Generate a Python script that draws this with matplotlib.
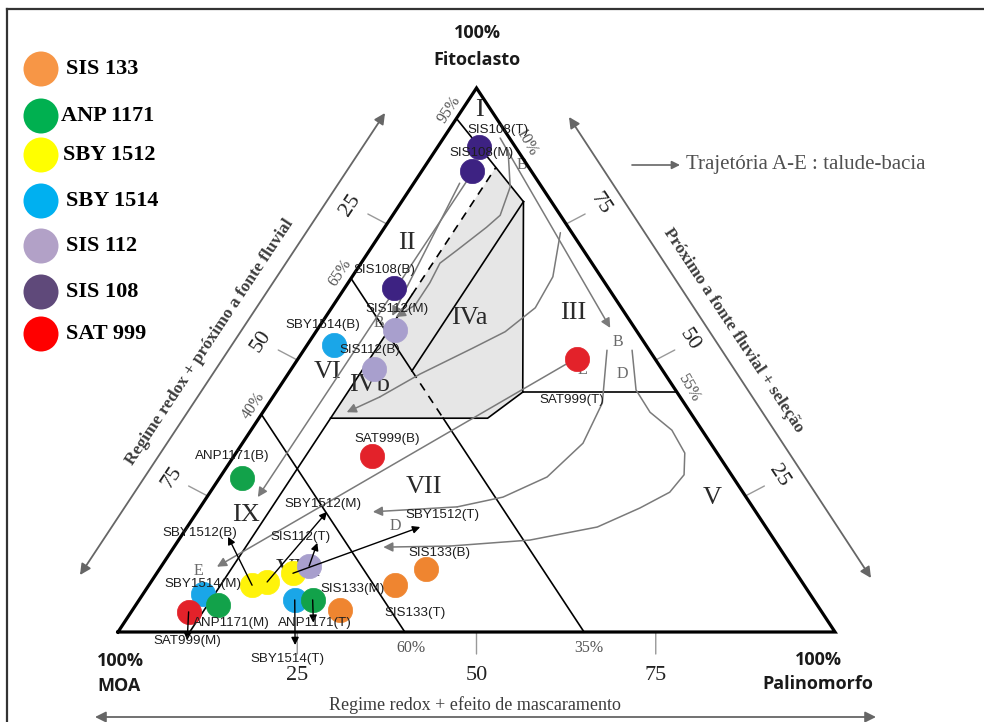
import numpy as np
import matplotlib
matplotlib.use("Agg")
import matplotlib.pyplot as plt
from matplotlib.patches import Polygon, Ellipse

# ---------------- data ----------------
series_names = ["SIS 133", "ANP 1171", "SBY 1512", "SBY 1514", "SIS 112", "SIS 108", "SAT 999"]

# samples of each well: tag, MOA %, Fitoclasto %, Palinomorfo %
sis133_tags = ["SIS133(B)", "SIS133(M)", "SIS133(T)"]
sis133_moa = [51.3, 57.1, 67.0]
sis133_fito = [11.6, 8.6, 4.0]
sis133_pal = [37.1, 34.3, 29.0]

anp1171_tags = ["ANP1171(B)", "ANP1171(M)", "ANP1171(T)"]
anp1171_moa = [68.6, 83.6, 69.9]
anp1171_fito = [28.3, 5.0, 5.9]
anp1171_pal = [3.1, 11.4, 24.2]

sby1512_tags = ["SBY1512(B)", "SBY1512(M)", "SBY1512(T)"]
sby1512_moa = [77.0, 74.6, 70.2]
sby1512_fito = [8.6, 9.2, 10.8]
sby1512_pal = [14.4, 16.2, 19.0]

sby1514_tags = ["SBY1514(B)", "SBY1514(M)", "SBY1514(T)"]
sby1514_moa = [43.5, 84.6, 72.4]
sby1514_fito = [52.8, 7.0, 5.9]
sby1514_pal = [3.7, 8.4, 21.7]

sis112_tags = ["SIS112(B)", "SIS112(M)", "SIS112(T)"]
sis112_moa = [40.1, 33.6, 67.3]
sis112_fito = [48.4, 55.5, 12.1]
sis112_pal = [11.5, 10.9, 20.6]

sis108_tags = ["SIS108(B)", "SIS108(M)", "SIS108(T)"]
sis108_moa = [29.9, 8.3, 5.1]
sis108_fito = [63.2, 84.7, 89.1]
sis108_pal = [6.9, 7.0, 5.8]

sat999_tags = ["SAT999(B)", "SAT999(M)", "SAT999(T)"]
sat999_moa = [48.4, 88.3, 10.9]
sat999_fito = [32.4, 3.7, 50.2]
sat999_pal = [19.2, 8.0, 38.9]

# field boundaries (Fitoclasto %, Palinomorfo %); MOA = 100 - F - P
moa5_fito, moa5_pal = [94.4, 79.1], [0.0, 17.0]
ratio_fito, ratio_pal = [79.1, 44.1], [17.0, 34.4]
f44_fito, f44_pal = [44.1, 44.1], [34.4, 55.9]
step_fito, step_pal = [44.1, 39.3, 39.3], [34.4, 31.9, 10.0]
p10_fito, p10_pal = [0.0, 62.0], [10.0, 10.0]
p10d_fito, p10d_pal = [62.0, 85.4], [10.0, 10.0]
p17_fito, p17_pal = [79.1, 48.0], [17.0, 17.0]
moa35a_fito, moa35a_pal = [65.0, 48.0], [0.0, 17.0]
moa35b_fito, moa35b_pal = [48.0, 39.3], [17.0, 25.7]
moa35c_fito, moa35c_pal = [39.3, 0.0], [25.7, 65.0]
moa60_fito, moa60_pal = [40.0, 0.0], [0.0, 40.0]
shade_fito = [85.4, 79.1, 44.1, 39.3, 39.3]
shade_pal = [10.0, 17.0, 34.4, 31.9, 10.0]

# trajectories A-E (Fitoclasto %, Palinomorfo %)
traj1_fito, traj1_pal = [82.7, 24.8], [7.2, 7.1]
traj2_fito, traj2_pal = [82.5, 58.1], [6.4, 9.2]
traj3_fito = [88.6, 81.8, 76.6, 74.4, 70.2, 67.8, 64.2, 60.1, 57.9]
traj3_pal = [10.1, 13.8, 15.0, 14.2, 12.2, 11.0, 11.4, 11.4, 9.8]
traj4_fito = [73.4, 65.3, 59.6, 55.2, 52.2, 47.4, 43.2, 40.4]
traj4_pal = [25.0, 28.0, 28.4, 26.4, 23.4, 18.4, 14.9, 11.7]
traj5_fito, traj5_pal = [90.8, 55.9], [7.9, 40.7]
traj6_fito = [51.8, 42.1, 34.7, 28.5, 24.8, 23.0, 22.1]
traj6_pal = [42.3, 46.5, 47.5, 45.6, 41.3, 35.8, 24.5]
traj7_fito = [51.8, 44.5, 40.4, 37.1, 32.9, 28.9, 25.7, 22.8, 19.3, 16.9, 15.8, 15.6]
traj7_pal = [45.8, 50.0, 54.0, 58.7, 62.6, 64.5, 64.1, 61.4, 57.2, 49.0, 38.4, 29.2]
traj8_fito, traj8_pal = [50.0, 12.0], [38.5, 7.8]

# sample shift arrows: start sample, end (Fitoclasto %, Palinomorfo %)
shift_from = ["SBY1512(M)", "SBY1512(B)", "SBY1512(T)", "SIS112(T)", "SBY1514(T)", "ANP1171(T)", "SAT999(M)"]
shift_to_fito = [22.1, 17.5, 19.3, 16.4, -2.4, 1.7, -1.5]
shift_to_pal = [18.1, 6.6, 32.5, 19.6, 25.9, 26.4, 10.4]

edge_ticks = [25, 50, 75]

# ---------------- styling ----------------
legend_colors = ["#f79646", "#00b050", "#ffff00", "#00b0f0", "#b2a1c7", "#5f497a", "#ff0000"]
dot_colors = ["#ef8530", "#12a24a", "#fff30a", "#1aa6e8", "#a89fcd", "#3d2282", "#e3222a"]
SERIF = ["Liberation Serif", "DejaVu Serif"]
SANS = ["Liberation Sans", "DejaVu Sans"]
TITLE = ["Open Sans", "DejaVu Sans"]
GRAY = "#7a7a7a"

W, H = 984, 722
fig = plt.figure(figsize=(W / 100, H / 100), dpi=100)
fig.patch.set_facecolor("white")

X0, X1, YB, YT = 118, 835, 632, 88
ax = fig.add_axes([X0 / W, 1 - YB / H, (X1 - X0) / W, (YB - YT) / H])
ax.set_xlim(0, 100)
ax.set_ylim(0, 100)
ax.axis("off")


def tern(fito, pal, moa=None):
    fito = np.asarray(fito, float)
    pal = np.asarray(pal, float)
    if moa is not None:
        tot = np.asarray(moa, float) + fito + pal
        fito = fito * 100 / tot
        pal = pal * 100 / tot
    return pal + fito / 2, fito


def fp(x, y):
    return (x, H - y)


PX = 0.72  # points per pixel

# frame
fig.add_artist(plt.Line2D([7 / W, 7 / W], [0, 1 - 9 / H], color="#333333", lw=1.6))
fig.add_artist(plt.Line2D([7 / W, 1], [1 - 9 / H, 1 - 9 / H], color="#333333", lw=1.6))

# shaded field IV
sx, sy = tern(shade_fito, shade_pal)
ax.add_patch(Polygon(np.column_stack([sx, sy]), closed=True, facecolor="#e6e6e6",
                     edgecolor="none", zorder=1))

# triangle outline
tx, ty = tern([0, 100, 0, 0], [0, 0, 100, 0])
ax.plot(tx, ty, color="black", lw=2.3, solid_joinstyle="miter", clip_on=False, zorder=4)

# field boundary lines
for fl, pl, ls in [(moa5_fito, moa5_pal, "-"), (ratio_fito, ratio_pal, "-"),
                   (f44_fito, f44_pal, "-"), (step_fito, step_pal, "-"),
                   (p10_fito, p10_pal, "-"), (p10d_fito, p10d_pal, (0, (5, 4))),
                   (p17_fito, p17_pal, "-"), (moa35a_fito, moa35a_pal, "-"),
                   (moa35b_fito, moa35b_pal, (0, (5, 4))), (moa35c_fito, moa35c_pal, "-"),
                   (moa60_fito, moa60_pal, "-")]:
    x, y = tern(fl, pl)
    ax.plot(x, y, color="black", lw=1.2, ls=ls, clip_on=False, zorder=2)


def arrow_path(fl, pl, color, lw=1.1, ms=14, z=3):
    x, y = tern(fl, pl)
    if len(x) > 2:
        ax.plot(x[:-1], y[:-1], color=color, lw=lw, clip_on=False, zorder=z,
                solid_capstyle="round", solid_joinstyle="round")
        start = (x[-2], y[-2])
    else:
        start = (x[0], y[0])
    ax.annotate("", xy=(x[-1], y[-1]), xytext=start,
                arrowprops=dict(arrowstyle="-|>", color=color, lw=lw, mutation_scale=ms,
                                shrinkA=0, shrinkB=0), zorder=z, annotation_clip=False)


for fl, pl in [(traj1_fito, traj1_pal), (traj2_fito, traj2_pal), (traj3_fito, traj3_pal),
               (traj4_fito, traj4_pal), (traj5_fito, traj5_pal), (traj6_fito, traj6_pal),
               (traj7_fito, traj7_pal), (traj8_fito, traj8_pal)]:
    arrow_path(fl, pl, GRAY)

# field labels
fields = ["I", "II", "III", "IVa", "IVb", "V", "VI", "VII", "VIII", "IX"]
field_px = [(479, 110), (407, 243), (573, 313), (469, 318), (370, 385), (712, 498),
            (328, 372), (424, 487), (298, 570), (246, 515)]
for name, (px_, py_) in zip(fields, field_px):
    ax.annotate(name, xy=fp(px_, py_), xycoords="figure pixels", ha="center", va="center",
                fontsize=19, family=SERIF, color="#2a2a2a", zorder=2)

# trajectory letters
for s, (px_, py_) in zip(["B", "B", "B", "D", "E", "D", "E"],
                         [(522, 165), (379, 323), (618, 342), (622, 374), (582, 370),
                          (395, 526), (198, 571)]):
    ax.annotate(s, xy=fp(px_, py_), xycoords="figure pixels", ha="center", va="center",
                fontsize=11.5, family=SERIF, color="#6a6a6a", zorder=3)

# percent labels
pct = [("95%", 449, 110, 56.5), ("10%", 526, 143, -60), ("65%", 340, 273, 56.5),
       ("40%", 253, 406, 56.5), ("60%", 411, 648, 0), ("35%", 589, 648, 0),
       ("55%", 689, 388, -60)]
for s, px_, py_, rot in pct:
    ax.annotate(s, xy=fp(px_, py_), xycoords="figure pixels", ha="center", va="center",
                fontsize=11.5, family=SERIF, color="#555555", rotation=rot, zorder=3)

# data points
dot_order = [3, 1, 2, 4, 0, 5, 6]
all_series = [
    (sis133_tags, sis133_moa, sis133_fito, sis133_pal),
    (anp1171_tags, anp1171_moa, anp1171_fito, anp1171_pal),
    (sby1512_tags, sby1512_moa, sby1512_fito, sby1512_pal),
    (sby1514_tags, sby1514_moa, sby1514_fito, sby1514_pal),
    (sis112_tags, sis112_moa, sis112_fito, sis112_pal),
    (sis108_tags, sis108_moa, sis108_fito, sis108_pal),
    (sat999_tags, sat999_moa, sat999_fito, sat999_pal),
]
pos = {}
for k, i in enumerate(dot_order):
    tags, moa, fito, pal = all_series[i]
    x, y = tern(fito, pal, moa)
    ax.scatter(x, y, s=17.5 ** 2, color=dot_colors[i], edgecolors=dot_colors[i],
               linewidths=0.5, zorder=5 + k * 0.01, clip_on=False)
    for t, xx, yy in zip(tags, x, y):
        pos[t] = (xx, yy)

# sample shift arrows
for tag, fe, pe in zip(shift_from, shift_to_fito, shift_to_pal):
    xe, ye = tern(fe, pe)
    ax.annotate("", xy=(xe, ye), xytext=pos[tag],
                arrowprops=dict(arrowstyle="-|>", color="black", lw=1.0, mutation_scale=11,
                                shrinkA=0, shrinkB=0), zorder=6, annotation_clip=False)

label_offset = {
    "SIS133(B)": (14, 16), "SIS133(M)": (-42, -4), "SIS133(T)": (75, -3),
    "ANP1171(B)": (-9, 22), "ANP1171(M)": (14, -18), "ANP1171(T)": (2, -23),
    "SBY1512(B)": (-52, 52), "SBY1512(M)": (56, 78), "SBY1512(T)": (150, 58),
    "SBY1514(B)": (-11, 20), "SBY1514(M)": (0, 10), "SBY1514(T)": (-7, -59),
    "SIS112(B)": (-4, 19), "SIS112(M)": (2, 21), "SIS112(T)": (-9, 29),
    "SIS108(B)": (-10, 18), "SIS108(M)": (10, 18), "SIS108(T)": (19, 17),
    "SAT999(B)": (15, 17), "SAT999(M)": (-1, -29), "SAT999(T)": (-5, -41),
}
for tag, (dx, dy) in label_offset.items():
    ax.annotate(tag, xy=pos[tag], xytext=(dx * PX, dy * PX), textcoords="offset points",
                ha="center", va="center", fontsize=9.6, family=SANS, color="#1e1e1e",
                zorder=7, annotation_clip=False)

# edge ticks and their labels
for v in edge_ticks:
    # left edge: MOA scale
    lx, ly = tern(100 - v, 0)
    ax.annotate("", xy=(lx, ly), xytext=(-19 * PX, 10 * PX), textcoords="offset points",
                arrowprops=dict(arrowstyle="-", color="#999999", lw=1, shrinkA=0, shrinkB=0),
                annotation_clip=False)
    ax.annotate(str(v), xy=(lx, ly), xytext=(-36 * PX, 19 * PX), textcoords="offset points",
                ha="center", va="center", rotation=56.5, fontsize=16, family=SERIF,
                color="#222222", annotation_clip=False)
    # right edge
    rx, ry = tern(v, 100 - v)
    ax.annotate("", xy=(rx, ry), xytext=(19 * PX, 10 * PX), textcoords="offset points",
                arrowprops=dict(arrowstyle="-", color="#999999", lw=1, shrinkA=0, shrinkB=0),
                annotation_clip=False)
    ax.annotate(str(v), xy=(rx, ry), xytext=(34 * PX, 20 * PX), textcoords="offset points",
                ha="center", va="center", rotation=-56.5, fontsize=16, family=SERIF,
                color="#222222", annotation_clip=False)
    # base
    bx, by = tern(0, v)
    ax.annotate("", xy=(bx, by), xytext=(0, -22 * PX), textcoords="offset points",
                arrowprops=dict(arrowstyle="-", color="#999999", lw=1, shrinkA=0, shrinkB=0),
                annotation_clip=False)
    ax.annotate(str(v), xy=(bx, by), xytext=(0, -43 * PX), textcoords="offset points",
                ha="center", va="center", fontsize=16, family=SERIF, color="#222222",
                annotation_clip=False)

# vertex titles
for s, x, y, ha in [("100%", 477, 33, "center"), ("Fitoclasto", 477, 60, "center"),
                    ("100%", 97, 661, "left"), ("MOA", 97, 686, "left"),
                    ("100%", 818, 660, "center"), ("Palinomorfo", 818, 684, "center")]:
    fig.text(x / W, 1 - y / H, s, ha=ha, va="center", fontsize=13,
             family=TITLE, weight="bold", color="#1a1a1a")

# process axes (double arrows)
for (xa, ya), (xb, yb) in [((80, 575), (385, 113)), ((569, 117), (871, 578)),
                           ((95, 717), (876, 717))]:
    ax.annotate("", xy=fp(xb, yb), xytext=fp(xa, ya), xycoords="figure pixels",
                textcoords="figure pixels",
                arrowprops=dict(arrowstyle="<|-|>", color="#666666", lw=1.3,
                                mutation_scale=16, shrinkA=0, shrinkB=0),
                annotation_clip=False)

ax.annotate("Regime redox + próximo a fonte fluvial", xy=fp(210, 342),
            xycoords="figure pixels", ha="center", va="center", rotation=56.5,
            fontsize=12.5, family=SERIF, weight="bold", color="#3c3c3c")
ax.annotate("Próximo a fonte fluvial + seleção", xy=fp(733, 330),
            xycoords="figure pixels", ha="center", va="center", rotation=-56.5,
            fontsize=12.5, family=SERIF, weight="bold", color="#3c3c3c")
ax.annotate("Regime redox + efeito de mascaramento", xy=fp(475, 705),
            xycoords="figure pixels", ha="center", va="center",
            fontsize=13, family=SERIF, color="#3c3c3c")

# trajectory key
ax.annotate("", xy=fp(680, 165), xytext=fp(632, 165), xycoords="figure pixels",
            textcoords="figure pixels",
            arrowprops=dict(arrowstyle="-|>", color="#666666", lw=1.2, mutation_scale=12,
                            shrinkA=0, shrinkB=0), annotation_clip=False)
fig.text(686 / W, 1 - 164 / H, "Trajetória A-E : talude-bacia", ha="left", va="center",
         fontsize=15, family=SERIF, color="#505050")

# well legend
legend_y = [69, 116, 155, 201, 246, 292, 334]
legend_tx = [66, 61, 63, 66, 66, 66, 66]
for name, col, ly, lx in zip(series_names, legend_colors, legend_y, legend_tx):
    fig.add_artist(Ellipse((41 / W, 1 - ly / H), 35 / W, 35 / H,
                           transform=fig.transFigure, facecolor=col, edgecolor="none"))
    fig.text(lx / W, 1 - ly / H, name, ha="left", va="center", fontsize=16,
             family=SERIF, weight="bold", color="black")

fig.savefig("out.png", dpi=100, facecolor="white")
